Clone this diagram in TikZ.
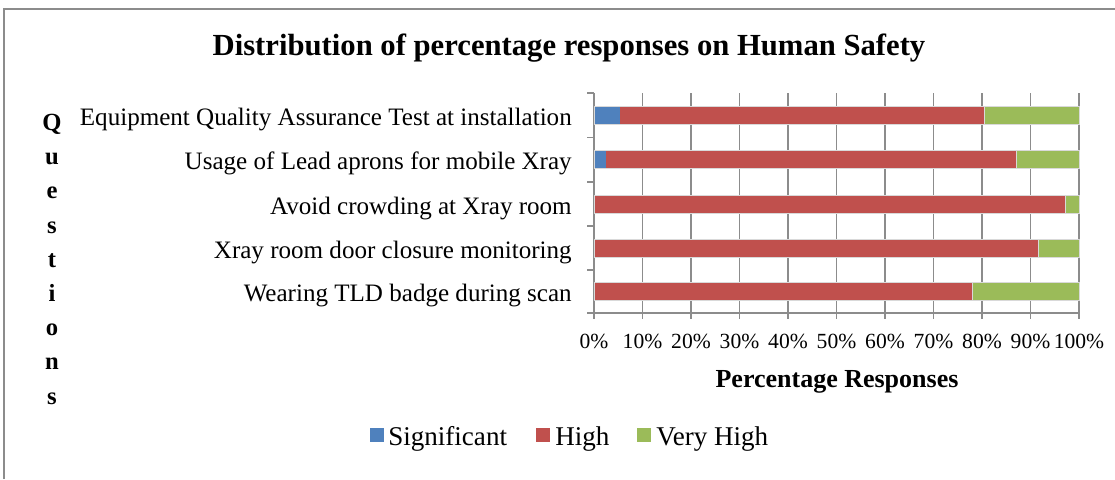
\documentclass[tikz,border=0pt]{standalone}
\usepackage{fontspec}
\setmainfont{Liberation Serif}
\definecolor{sig}{HTML}{4F81BD}
\definecolor{hig}{HTML}{C0504D}
\definecolor{vhi}{HTML}{9BBB59}
\definecolor{grid}{HTML}{8C8C8C}
\tikzset{
  gridline/.style={draw=grid, line width=1.1pt},
  barseg/.style={draw=white!85!black, line width=0.4pt},
  catlabel/.style={anchor=base east, inner sep=0pt, font=\fontsize{18.8}{20}\selectfont},
  ticklabel/.style={anchor=base, inner sep=0pt, font=\fontsize{16.2}{18}\selectfont},
  legtext/.style={anchor=base west, inner sep=0pt, font=\fontsize{20.3}{22}\selectfont},
  legbox/.style={minimum size=11pt, inner sep=0pt},
  qletter/.style={anchor=base, inner sep=0pt, font=\bfseries\fontsize{18.5}{20}\selectfont},
}
\begin{document}
\begin{tikzpicture}[x=0.75pt, y=-0.75pt]
\useasboundingbox (0,0) rectangle (1115,479);
% frame (only top and left edges visible)
\draw[draw=grid, line width=1pt] (4,479) -- (4,9) -- (1115,9);
% title
\node[font=\bfseries\fontsize{23}{26}\selectfont, inner sep=0pt, anchor=base] (title) at (569,55) {Distribution of percentage responses on Human Safety};
% vertical gridlines and bottom ticks
\foreach \i/\lab in {0/0,1/10,2/20,3/30,4/40,5/50,6/60,7/70,8/80,9/90,10/100} {
  \pgfmathsetmacro{\xx}{594+48.5*\i}
  \draw[gridline] (\xx,93) -- (\xx,319);
  \node[ticklabel] (t\i) at (\xx,348) {\lab\%};
}
% left axis with ticks
\draw[gridline] (594,93) -- (594,313);
\draw[gridline] (594,313) -- (1079,313);
\foreach \yy in {93,137.5,181.8,226,270,313} {
  \draw[gridline] (587,\yy) -- (594,\yy);
}
% bars: center y, significant end, high end
\foreach \cy/\a/\b in {115/5.4/80.4, 159.5/2.5/87.0, 204/0/97.2, 248/0/91.6, 291.5/0/78.0} {
  \pgfmathsetmacro{\xa}{594+4.85*\a}
  \pgfmathsetmacro{\xb}{594+4.85*\b}
  \pgfmathsetmacro{\yt}{\cy-8.8}
  \pgfmathsetmacro{\yb}{\cy+8.8}
  \ifdim \a pt>0pt
    \fill[sig] (594,\yt) rectangle (\xa,\yb);
  \fi
  \fill[hig] (\xa,\yt) rectangle (\xb,\yb);
  \fill[vhi] (\xb,\yt) rectangle (1079,\yb);
  \draw[barseg] (594,\yt) rectangle (1079,\yb);
  \draw[barseg] (\xb,\yt) -- (\xb,\yb);
}
% category labels
\node[catlabel] (c1) at (572,125) {Equipment Quality Assurance Test at installation};
\node[catlabel] (c2) at (572,169.5) {Usage of Lead aprons for mobile Xray};
\node[catlabel] (c3) at (572,214) {Avoid crowding at Xray room};
\node[catlabel] (c4) at (572,258) {Xray room door closure monitoring};
\node[catlabel] (c5) at (572,301.5) {Wearing TLD badge during scan};
% axis title
\node[font=\bfseries\fontsize{19.5}{22}\selectfont, inner sep=0pt, anchor=base] (xtitle) at (837,387) {Percentage Responses};
% vertical Questions
\foreach \ch/\yy [count=\k] in {Q/130.5,u/164.7,e/198.9,s/233.1,t/267.3,i/301.5,o/335.7,n/369.9,s/404.1} {
  \node[qletter] (q\k) at (52,\yy) {\ch};
}
% legend
\node[legbox, fill=sig] (lb1) at (377,435) {};
\node[legtext] (lt1) at (388,445) {Significant};
\node[legbox, fill=hig] (lb2) at (543,435) {};
\node[legtext] (lt2) at (555,445) {High};
\node[legbox, fill=vhi] (lb3) at (644,435) {};
\node[legtext] (lt3) at (656,445) {Very High};
\end{tikzpicture}
\end{document}
